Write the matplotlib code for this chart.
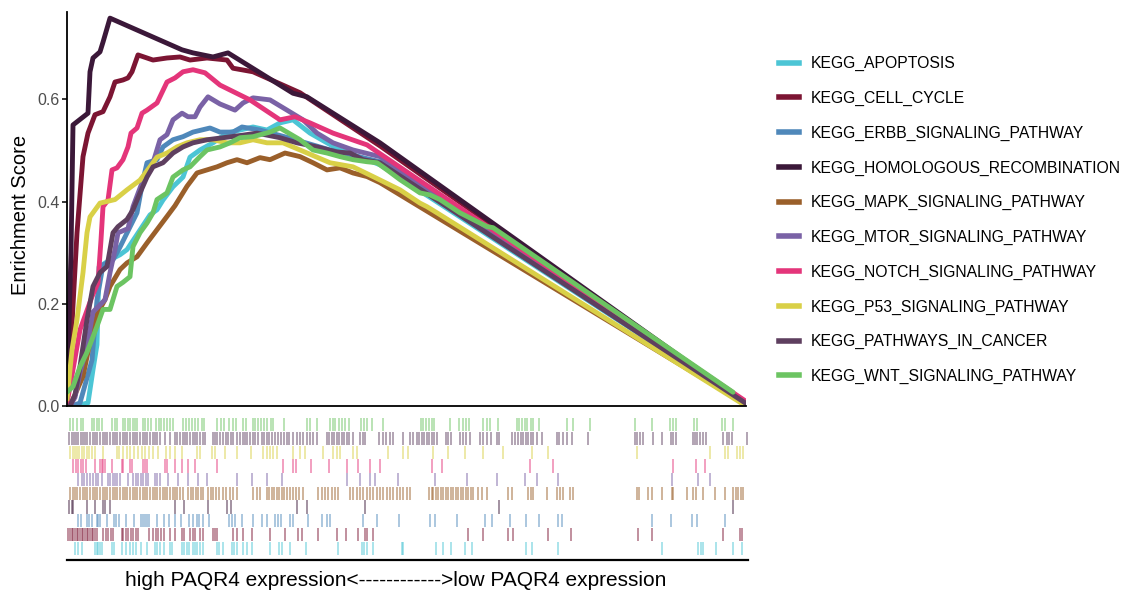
import matplotlib
matplotlib.use('Agg')
import matplotlib.pyplot as plt
from matplotlib.lines import Line2D

plt.rcParams['font.family'] = ['Liberation Sans', 'DejaVu Sans']

# ========================
# data: running enrichment score, x = gene rank in the ranked list
# ========================
N_GENES = 2037

pathways = ["KEGG_APOPTOSIS", "KEGG_CELL_CYCLE", "KEGG_ERBB_SIGNALING_PATHWAY",
            "KEGG_HOMOLOGOUS_RECOMBINATION", "KEGG_MAPK_SIGNALING_PATHWAY",
            "KEGG_MTOR_SIGNALING_PATHWAY", "KEGG_NOTCH_SIGNALING_PATHWAY",
            "KEGG_P53_SIGNALING_PATHWAY", "KEGG_PATHWAYS_IN_CANCER",
            "KEGG_WNT_SIGNALING_PATHWAY"]
colors = ["#4cc5d5", "#7c1533", "#4f88ba", "#3b1839", "#9a5f2a",
          "#7a62a6", "#e4357a", "#d9d047", "#5e3f5f", "#6cc462"]

apoptosis_x = [24, 63, 78, 90, 96, 129, 159, 180, 249, 270, 288, 318, 348, 369, 399, 438, 480,
               519, 558, 600, 639, 678, 729, 780, 819, 900, 939, 2037]
apoptosis_es = [0, 0.006, 0.071, 0.12, 0.272, 0.286, 0.296, 0.306, 0.374, 0.384, 0.403, 0.429,
                0.448, 0.487, 0.501, 0.515, 0.534, 0.54, 0.546, 0.54, 0.554, 0.56, 0.534, 0.515,
                0.501, 0.482, 0.472, 0.005]

cell_cycle_x = [0, 9, 30, 48, 63, 84, 108, 129, 144, 168, 183, 195, 213, 258, 300, 339, 369, 420,
                480, 498, 558, 699, 939, 2037]
cell_cycle_es = [0, 0.09, 0.339, 0.488, 0.534, 0.570, 0.576, 0.605, 0.634, 0.638, 0.642, 0.654,
                 0.687, 0.677, 0.681, 0.683, 0.677, 0.681, 0.677, 0.661, 0.654, 0.613, 0.509, 0.005]

erbb_x = [15, 39, 75, 90, 108, 138, 159, 210, 228, 240, 270, 288, 318, 348, 378, 429, 459, 498,
          525, 579, 669, 789, 939, 2037]
erbb_es = [0, 0.006, 0.09, 0.208, 0.276, 0.286, 0.311, 0.378, 0.442, 0.476, 0.482, 0.507, 0.521,
           0.527, 0.536, 0.544, 0.536, 0.536, 0.546, 0.54, 0.524, 0.501, 0.478, 0.005]

homologous_x = [0, 12, 18, 63, 69, 78, 99, 108, 129, 345, 378, 438, 483, 678, 720, 939, 2037]
homologous_es = [0.02, 0.3, 0.55, 0.573, 0.654, 0.681, 0.693, 0.712, 0.759, 0.697, 0.691, 0.683,
                 0.691, 0.612, 0.605, 0.515, 0.005]

mapk_x = [9, 15, 48, 75, 93, 114, 129, 159, 180, 210, 240, 270, 300, 324, 360, 390, 420, 450,
          480, 510, 540, 579, 609, 654, 699, 738, 780, 819, 858, 900, 939, 2037]
mapk_es = [0, 0.009, 0.058, 0.144, 0.183, 0.208, 0.234, 0.267, 0.28, 0.292, 0.319, 0.345, 0.371,
           0.392, 0.43, 0.456, 0.462, 0.468, 0.476, 0.482, 0.476, 0.486, 0.482, 0.495, 0.488,
           0.476, 0.462, 0.466, 0.456, 0.449, 0.437, 0.003]

mtor_x = [9, 24, 39, 60, 78, 93, 114, 129, 144, 153, 183, 198, 228, 258, 279, 300, 318, 345, 363,
          384, 399, 423, 459, 504, 528, 558, 609, 660, 708, 750, 798, 858, 939, 2037]
mtor_es = [0, 0.017, 0.065, 0.117, 0.184, 0.194, 0.208, 0.261, 0.306, 0.339, 0.347, 0.39, 0.442,
           0.476, 0.521, 0.531, 0.56, 0.573, 0.566, 0.566, 0.585, 0.605, 0.591, 0.579, 0.593,
           0.603, 0.599, 0.579, 0.56, 0.534, 0.515, 0.501, 0.488, 0.005]

notch_x = [0, 39, 75, 93, 102, 108, 123, 135, 150, 168, 183, 192, 210, 225, 240, 270, 300, 324,
           348, 378, 414, 459, 549, 639, 684, 729, 798, 900, 2037]
notch_es = [0.005, 0.149, 0.214, 0.241, 0.325, 0.39, 0.403, 0.462, 0.466, 0.482, 0.507, 0.534,
            0.544, 0.573, 0.579, 0.593, 0.634, 0.642, 0.654, 0.658, 0.652, 0.628, 0.599, 0.560,
            0.566, 0.554, 0.534, 0.511, 0.009]

p53_x = [0, 15, 30, 48, 60, 69, 99, 144, 180, 219, 249, 270, 300, 330, 360, 399, 438, 480, 519,
         558, 600, 648, 699, 789, 858, 918, 999, 1059, 1080, 1110, 2037]
p53_es = [0.013, 0.11, 0.169, 0.261, 0.339, 0.37, 0.397, 0.404, 0.423, 0.442, 0.468, 0.487,
          0.495, 0.507, 0.515, 0.521, 0.521, 0.515, 0.515, 0.521, 0.515, 0.515, 0.501, 0.476,
          0.468, 0.449, 0.423, 0.397, 0.39, 0.378, 0.0]

cancer_x = [9, 24, 39, 60, 78, 99, 120, 138, 153, 180, 198, 219, 240, 258, 288, 318, 348, 378,
            420, 468, 528, 570, 639, 690, 750, 810, 849, 888, 939, 2037]
cancer_es = [0, 0.022, 0.077, 0.169, 0.234, 0.261, 0.273, 0.339, 0.351, 0.365, 0.384, 0.417,
             0.448, 0.468, 0.476, 0.495, 0.507, 0.515, 0.521, 0.525, 0.53, 0.534, 0.525, 0.515,
             0.507, 0.497, 0.495, 0.482, 0.476, 0.005]

wnt_x = [0, 18, 39, 60, 90, 108, 129, 150, 168, 189, 198, 219, 240, 258, 270, 300, 318, 348, 369,
         399, 420, 459, 489, 519, 558, 609, 639, 699, 738, 780, 819, 858, 900, 930, 960, 999,
         1059, 1089, 1119, 1179, 1209, 1260, 1278, 1998]
wnt_es = [0.027, 0.038, 0.077, 0.105, 0.156, 0.189, 0.189, 0.234, 0.242, 0.253, 0.312, 0.339,
          0.358, 0.378, 0.404, 0.417, 0.448, 0.462, 0.468, 0.488, 0.501, 0.507, 0.515, 0.525,
          0.527, 0.536, 0.544, 0.521, 0.501, 0.495, 0.488, 0.482, 0.478, 0.476, 0.462, 0.443,
          0.417, 0.413, 0.404, 0.378, 0.368, 0.351, 0.349, 0.027]

# gene hit positions (ranks) for the rug under the curves
apoptosis_hits = [24, 34, 44, 84, 89, 94, 99, 104, 134, 141, 164, 177, 189, 197, 207, 221, 241,
                  264, 271, 279, 291, 309, 314, 344, 351, 359, 367, 377, 384, 391, 399, 407, 449,
                  457, 469, 494, 501, 509, 527, 541, 554, 609, 637, 644, 669, 717, 814, 884, 891,
                  899, 919, 1004, 1009, 1107, 1129, 1151, 1194, 1214, 1377, 1394, 1474, 1784,
                  1894, 1901, 1909, 1947, 1997, 2024]
cell_cycle_hits = [4, 9, 14, 19, 24, 29, 34, 39, 44, 49, 54, 59, 64, 69, 74, 79, 84, 89, 109, 117,
                   124, 131, 139, 164, 169, 177, 184, 191, 199, 207, 214, 247, 259, 267, 274, 281,
                   291, 309, 324, 344, 351, 369, 377, 384, 399, 407, 439, 444, 449, 499, 511, 527,
                   554, 609, 654, 694, 704, 754, 809, 837, 874, 894, 899, 919, 1204, 1249, 1324,
                   1339, 1444, 1511, 1714, 1754, 1969, 2019, 2024]
erbb_hits = [34, 41, 59, 67, 74, 89, 94, 99, 119, 141, 147, 157, 177, 201, 221, 227, 234, 241,
             247, 269, 291, 307, 324, 341, 367, 377, 389, 397, 407, 427, 487, 494, 504, 524, 557,
             584, 601, 624, 634, 641, 669, 677, 724, 764, 779, 789, 889, 929, 997, 1089, 1104,
             1169, 1254, 1274, 1329, 1377, 1417, 1474, 1484, 1754, 1811, 1874, 1889, 1974]
homologous_hits = [7, 14, 19, 61, 84, 107, 114, 129, 324, 351, 424, 479, 491, 691, 721, 894,
                   1297, 1999]
mapk_hits = [9, 17, 24, 31, 39, 47, 54, 61, 69, 77, 84, 91, 99, 107, 114, 121, 129, 137, 144, 151,
             159, 167, 174, 181, 189, 197, 204, 211, 219, 227, 234, 241, 249, 257, 264, 271, 279,
             287, 294, 301, 309, 317, 324, 331, 339, 347, 364, 371, 379, 387, 394, 401, 409, 424,
             431, 439, 447, 457, 467, 477, 489, 499, 509, 559, 569, 579, 599, 607, 614, 621, 629,
             637, 644, 651, 659, 669, 679, 687, 697, 707, 754, 764, 774, 784, 794, 804, 814, 849,
             857, 869, 879, 889, 899, 909, 919, 929, 939, 949, 959, 969, 979, 989, 999, 1009,
             1019, 1029, 1087, 1094, 1099, 1107, 1114, 1121, 1129, 1137, 1144, 1151, 1159, 1167,
             1174, 1181, 1189, 1197, 1204, 1211, 1219, 1234, 1244, 1259, 1324, 1334, 1384, 1391,
             1399, 1439, 1471, 1479, 1487, 1509, 1517, 1709, 1717, 1744, 1754, 1784, 1814, 1819,
             1859, 1879, 1887, 1909, 1944, 1974, 1999, 2007, 2014, 2021, 2029]
mtor_hits = [34, 44, 51, 59, 69, 77, 87, 94, 104, 124, 129, 137, 144, 151, 159, 184, 199, 207,
             214, 221, 229, 237, 244, 264, 269, 279, 304, 334, 364, 394, 419, 509, 554, 599, 644,
             839, 879, 909, 924, 994, 1104, 1199, 1289, 1374, 1409, 1474, 1814, 1894, 1929]
notch_hits = [19, 27, 34, 41, 49, 57, 84, 99, 104, 109, 114, 134, 164, 169, 189, 194, 227, 234,
              241, 294, 299, 324, 344, 364, 384, 451, 647, 679, 687, 731, 787, 841, 874, 909, 939,
              1094, 1124, 1389, 1459, 1817, 1887, 1914]
p53_hits = [9, 17, 24, 31, 37, 44, 51, 59, 67, 74, 84, 109, 149, 157, 169, 179, 189, 201, 214,
            224, 234, 247, 259, 274, 297, 309, 324, 344, 389, 399, 434, 444, 474, 509, 551, 589,
            599, 609, 619, 629, 679, 699, 714, 769, 799, 809, 819, 857, 869, 964, 1009, 1024,
            1099, 1144, 1194, 1249, 1307, 1394, 1444, 1711, 1929, 1974, 1984, 2009, 2019, 2029]
cancer_hits = [7, 14, 21, 27, 34, 41, 47, 54, 61, 69, 77, 84, 91, 99, 107, 114, 121, 129, 137,
               144, 151, 159, 167, 174, 181, 189, 197, 204, 211, 219, 227, 234, 241, 249, 257,
               264, 271, 279, 294, 309, 324, 331, 339, 347, 354, 361, 369, 377, 384, 391, 399,
               407, 414, 437, 444, 451, 459, 469, 477, 484, 491, 499, 509, 519, 527, 534, 541,
               549, 557, 564, 574, 584, 591, 599, 607, 614, 624, 634, 641, 651, 659, 667, 677,
               689, 699, 709, 719, 729, 739, 749, 779, 787, 794, 801, 809, 817, 824, 831, 839,
               847, 857, 879, 887, 894, 937, 947, 957, 969, 979, 1007, 1029, 1039, 1049, 1057,
               1064, 1071, 1079, 1087, 1094, 1101, 1109, 1137, 1144, 1151, 1179, 1187, 1197,
               1209, 1239, 1249, 1259, 1271, 1289, 1297, 1334, 1344, 1354, 1361, 1369, 1377,
               1384, 1391, 1399, 1409, 1424, 1469, 1477, 1487, 1499, 1514, 1564, 1704, 1711,
               1719, 1727, 1757, 1784, 1811, 1819, 1827, 1877, 1884, 1891, 1899, 1907, 1917,
               1969, 1979, 1987, 1994, 2039]
wnt_hits = [9, 19, 29, 41, 49, 74, 82, 89, 97, 104, 136, 144, 151, 167, 174, 182, 189, 197, 204,
            211, 227, 235, 243, 251, 267, 275, 283, 291, 299, 309, 319, 349, 357, 365, 375, 384,
            394, 404, 412, 451, 461, 471, 487, 497, 507, 527, 537, 557, 565, 573, 581, 591, 601,
            611, 619, 651, 721, 729, 749, 789, 797, 805, 815, 825, 835, 847, 881, 891, 901, 914,
            949, 1061, 1069, 1077, 1085, 1094, 1102, 1149, 1177, 1187, 1197, 1207, 1249, 1259,
            1269, 1294, 1349, 1357, 1365, 1373, 1381, 1391, 1397, 1417, 1499, 1519, 1569, 1704,
            1754, 1809, 1819, 1827, 1881, 1891, 1964, 1974, 1997]

curves_x = [apoptosis_x, cell_cycle_x, erbb_x, homologous_x, mapk_x, mtor_x, notch_x, p53_x,
            cancer_x, wnt_x]
curves_es = [apoptosis_es, cell_cycle_es, erbb_es, homologous_es, mapk_es, mtor_es, notch_es,
             p53_es, cancer_es, wnt_es]
hits = [apoptosis_hits, cell_cycle_hits, erbb_hits, homologous_hits, mapk_hits, mtor_hits,
        notch_hits, p53_hits, cancer_hits, wnt_hits]

xlabel_text = "high PAQR4 expression<------------>low PAQR4 expression"

# ========================
# figure
# ========================
W, H = 1124, 592
fig = plt.figure(figsize=(W / 100, H / 100), dpi=100)

# running score panel
ax = fig.add_axes([67 / W, (H - 406) / H, 679 / W, 394 / H])
for xs, ys, c in zip(curves_x, curves_es, colors):
    ax.plot(xs, ys, color=c, linewidth=3.5, solid_joinstyle='round', solid_capstyle='round')
ax.set_xlim(0, N_GENES)
ax.set_ylim(0, 0.771)
ax.set_yticks([0, 0.2, 0.4, 0.6])
ax.set_yticklabels(["0.0", "0.2", "0.4", "0.6"])
ax.set_xticks([])
ax.tick_params(axis='y', labelsize=11.5, labelcolor='#4d4d4d', length=3.5, width=1.1, pad=2)
for s in ['top', 'right']:
    ax.spines[s].set_visible(False)
for s in ['left', 'bottom']:
    ax.spines[s].set_linewidth(1.3)
fig.text(21 / W, 1 - 215 / H, "Enrichment Score", rotation=90, ha='center', va='center',
         fontsize=14.5)

# rug panel with gene hits
rug = fig.add_axes([67 / W, (H - 560) / H, 681 / W, 147 / H])
for k, (pos, c) in enumerate(zip(hits, colors)):
    rug.vlines(pos, k + 0.02, k + 0.98, color=c, linewidth=1.1, alpha=0.6)
rug.set_xlim(0, N_GENES + 6)
rug.set_ylim(-0.365, 10.365)
rug.set_xticks([])
rug.set_yticks([])
for s in ['top', 'right', 'left']:
    rug.spines[s].set_visible(False)
rug.spines['bottom'].set_linewidth(1.6)

fig.text(396 / W, 1 - 580 / H, xlabel_text, ha='center', va='center', fontsize=15)

# legend
handles = [Line2D([0], [0], color=c, linewidth=4) for c in colors]
fig.legend(handles, pathways, loc='upper left', bbox_to_anchor=(765 / W, 1 - 42 / H),
           frameon=False, fontsize=11.3, handlelength=1.27, handletextpad=0.72,
           labelspacing=1.25)

plt.savefig("out.png", dpi=100)
plt.close()
